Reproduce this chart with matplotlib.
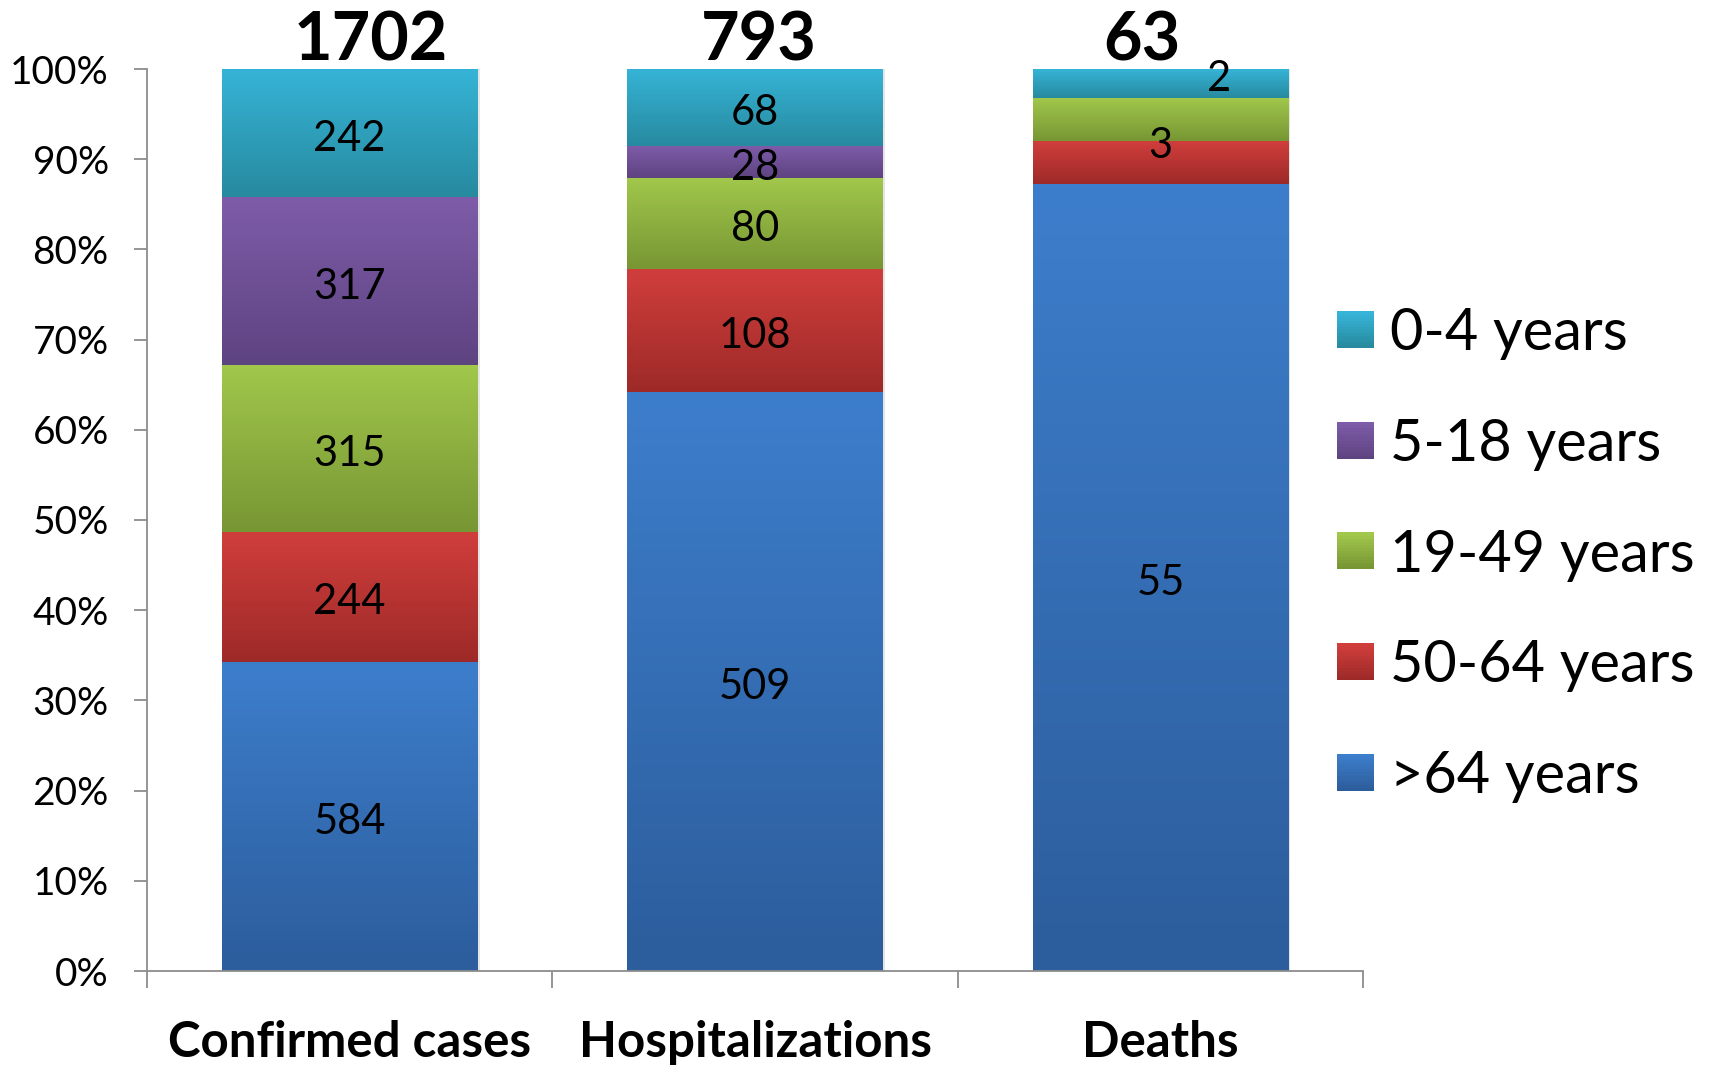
import numpy as np
import matplotlib
matplotlib.use("Agg")
import matplotlib.pyplot as plt
from matplotlib.colors import LinearSegmentedColormap, to_rgb
from matplotlib.patches import Rectangle
from matplotlib.legend_handler import HandlerBase

plt.rcParams['font.family'] = ['Lato', 'DejaVu Sans']

categories = ["Confirmed cases", "Hospitalizations", "Deaths"]
age_groups = [">64 years", "50-64 years", "19-49 years", "5-18 years", "0-4 years"]
over_64 = [584, 509, 55]
age_50_64 = [244, 108, 3]
age_19_49 = [315, 80, 3]
age_5_18 = [317, 28, 0]
age_0_4 = [242, 68, 2]
totals = [1702, 793, 63]

series = [over_64, age_50_64, age_19_49, age_5_18, age_0_4]
# (top colour, bottom colour) of each vertical gradient
shades = [("#3D7ECC", "#2C5D9C"),
          ("#D03E3C", "#9D2A28"),
          ("#A1C74B", "#779634"),
          ("#7E5CA9", "#5E4381"),
          ("#36B4D7", "#278A9F")]

W, H = 1710, 1067
fig = plt.figure(figsize=(W / 100, H / 100), dpi=100)
ax = fig.add_axes([147 / W, 1 - 971 / H, (1363 - 147) / W, (971 - 69) / H])

bar_w = 0.63
data = np.array(series, dtype=float)
shares = data / data.sum(axis=0) * 100
bottoms = np.vstack([np.zeros(len(categories)), np.cumsum(shares, axis=0)[:-1]])

grad = np.linspace(1, 0, 256).reshape(-1, 1)
for k, (vals, pct, base, (c_top, c_bot)) in enumerate(zip(series, shares, bottoms, shades)):
    cmap = LinearSegmentedColormap.from_list(f"g{k}", [c_bot, c_top])
    for i in range(len(categories)):
        if pct[i] <= 0:
            continue
        x0, x1 = i - bar_w / 2, i + bar_w / 2
        y0, y1 = base[i], base[i] + pct[i]
        ax.imshow(grad, cmap=cmap, extent=(x0, x1, y0, y1), aspect='auto',
                  origin='upper', zorder=2, interpolation='bilinear')

# soft shadow behind each bar
for i in range(len(categories)):
    ax.add_patch(Rectangle((i - bar_w / 2 + 0.006, -0.3), bar_w, 100.3,
                           facecolor="#000000", alpha=0.10, lw=0, zorder=1))

# segment value labels
for k, (vals, pct, base) in enumerate(zip(series, shares, bottoms)):
    for i in range(len(categories)):
        if vals[i] == 0:
            continue
        cx, cy = i, base[i] + pct[i] / 2
        dx, dy = 0, -4
        if categories[i] == "Deaths":
            if age_groups[k] == "19-49 years":
                continue
            if age_groups[k] == "50-64 years":
                cy = base[i] + pct[i]
            if age_groups[k] == "0-4 years":
                dx, dy = 42, 3
        ax.annotate(str(vals[i]), (cx, cy), xytext=(dx, dy), textcoords='offset points',
                    ha='center', va='center', fontsize=30, color='black', zorder=5)

# totals above the bars
total_shift = [15, 3, -13]
for i, t in enumerate(totals):
    ax.annotate(str(t), (i, 100), xytext=(total_shift[i], 20), textcoords='offset points',
                ha='center', va='center', fontsize=48, fontweight='bold', zorder=5,
                annotation_clip=False)

ax.set_xlim(-0.5, 2.5)
ax.set_ylim(0, 100)
ax.set_yticks(np.arange(0, 101, 10))
ax.set_yticklabels([f"{v}%" for v in range(0, 101, 10)])
ax.set_xticks(range(len(categories)))
ax.set_xticklabels(categories, fontweight='bold')
ax.set_xticks([-0.5, 0.5, 1.5, 2.5], minor=True)

spine_c = "#8C8C8C"
for s in ["top", "right"]:
    ax.spines[s].set_visible(False)
for s in ["left", "bottom"]:
    ax.spines[s].set_color(spine_c)
    ax.spines[s].set_linewidth(1.3)
ax.tick_params(axis='y', length=9.5, width=1.3, color=spine_c, pad=18, labelsize=28)
ax.tick_params(axis='x', which='major', length=0, pad=35, labelsize=35.5)
ax.tick_params(axis='x', which='minor', length=12, width=1.3, color=spine_c)


class GradientHandler(HandlerBase):
    def __init__(self, top, bot, n=12):
        super().__init__()
        self.top, self.bot, self.n = to_rgb(top), to_rgb(bot), n

    def create_artists(self, legend, orig_handle, xdescent, ydescent, width,
                       height, fontsize, trans):
        arts = []
        side = height
        x0 = -xdescent
        y0 = -ydescent
        for j in range(self.n):
            f = j / (self.n - 1)
            col = tuple(b + (t - b) * f for t, b in zip(self.top, self.bot))
            r = Rectangle((x0, y0 + side * j / self.n), side, side / self.n + 0.3,
                          facecolor=col, lw=0, transform=trans)
            arts.append(r)
        return arts


handles, labels, hmap = [], [], {}
for name, (c_top, c_bot) in reversed(list(zip(age_groups, shades))):
    h = Rectangle((0, 0), 1, 1)
    handles.append(h)
    labels.append(name)
    hmap[h] = GradientHandler(c_top, c_bot)

fig.legend(handles, labels, handler_map=hmap, loc='center left',
           bbox_to_anchor=(1337 / W, 1 - 555 / H), frameon=False,
           fontsize=41.5, handlelength=0.6, handleheight=0.6, handletextpad=0.32,
           labelspacing=1.0, borderpad=0, borderaxespad=0)

fig.savefig("out.png", dpi=100)
